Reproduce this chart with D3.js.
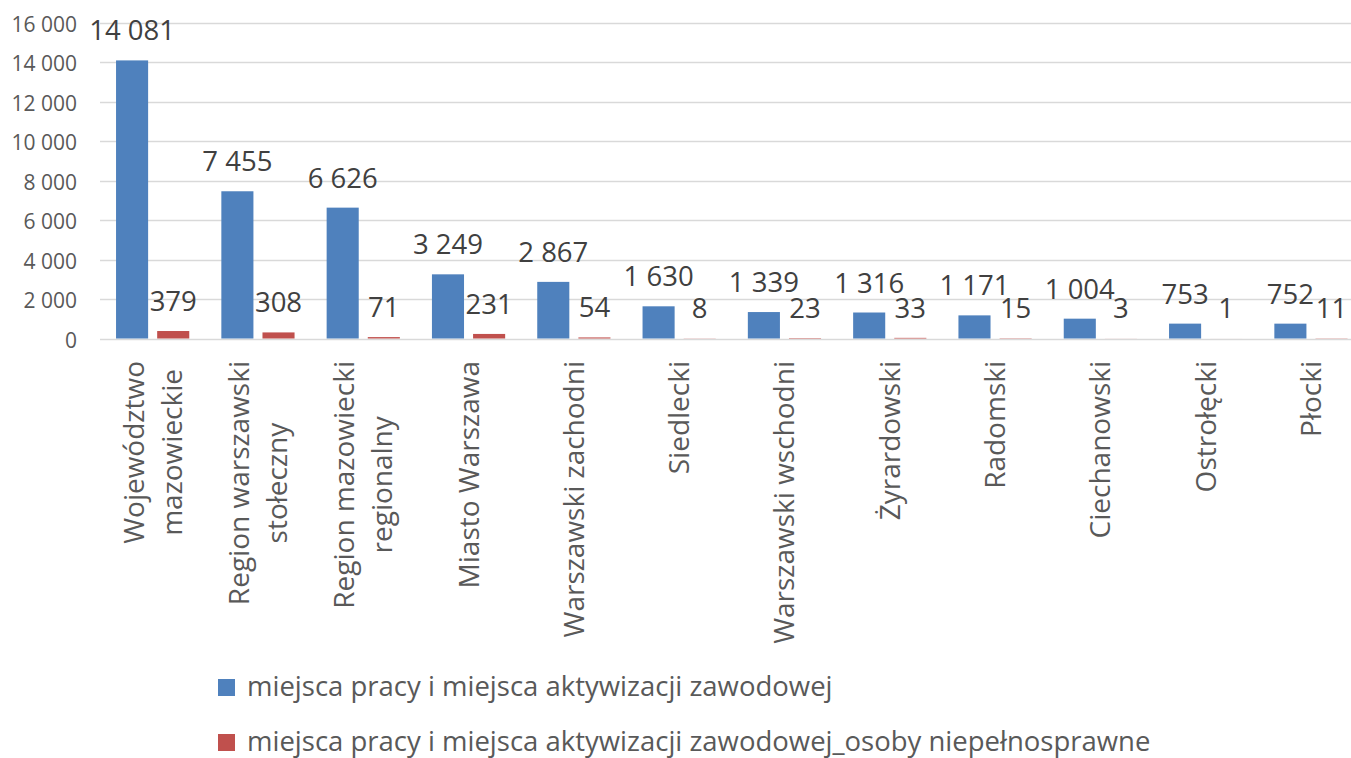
<!DOCTYPE html>
<html>
<head>
<meta charset="utf-8">
<script src="https://cdn.jsdelivr.net/npm/d3@7"></script>
<style>
  body { margin: 0; background: #fff; }
  svg { display: block; font-family: "Open Sans", "Noto Sans", sans-serif; }
</style>
</head>
<body>
<div id="chart"></div>
<script>
// data
const categories = [
    "Województwo\nmazowieckie", "Region warszawski\nstołeczny", "Region mazowiecki\nregionalny",
    "Miasto Warszawa", "Warszawski zachodni", "Siedlecki", "Warszawski wschodni",
    "Żyrardowski", "Radomski", "Ciechanowski", "Ostrołęcki", "Płocki"
];
const seriesNames = [
    "miejsca pracy i miejsca aktywizacji zawodowej",
    "miejsca pracy i miejsca aktywizacji zawodowej_osoby niepełnosprawne"
];
const jobs = [14081, 7455, 6626, 3249, 2867, 1630, 1339, 1316, 1171, 1004, 753, 752];
const jobsDisabled = [379, 308, 71, 231, 54, 8, 23, 33, 15, 3, 1, 11];
const yTicks = [0, 2000, 4000, 6000, 8000, 10000, 12000, 14000, 16000];
const colors = ["#4f81bd", "#c0504d"];

function drawChart() {
    const width = 1351;
    const height = 758;
    const margin = { top: 22.5, left: 100, bottom: 338.5 };
    const step = 105.3;

    const svg = d3.select("#chart")
        .append("svg")
        .attr("width", width)
        .attr("height", height);

    const fmt = d3.formatLocale({ decimal: ",", thousands: " ", grouping: [3], currency: ["", ""] }).format(",");

    const x0 = d3.scaleBand()
        .domain(d3.range(categories.length))
        .range([margin.left, margin.left + step * categories.length]);

    const x1 = d3.scaleBand()
        .domain([0, 1])
        .range([0, x0.bandwidth()])
        .paddingInner(0.22)
        .paddingOuter(0.39);

    const y = d3.scaleLinear()
        .domain([0, 16000])
        .range([margin.bottom, margin.top]);

    // gridlines
    svg.append("g")
        .selectAll("line")
        .data(yTicks)
        .enter()
        .append("line")
        .attr("x1", margin.left)
        .attr("x2", width)
        .attr("y1", d => Math.round(y(d)) + 0.5)
        .attr("y2", d => Math.round(y(d)) + 0.5)
        .attr("stroke", "#d9d9d9")
        .attr("stroke-width", 1.3);

    // y tick labels
    svg.append("g")
        .selectAll("text")
        .data(yTicks)
        .enter()
        .append("text")
        .attr("x", 77)
        .attr("y", d => y(d) + 9)
        .attr("text-anchor", "end")
        .attr("font-size", 21)
        .attr("fill", "#595959")
        .text(d => fmt(d));

    const rows = categories.map((c, i) => ({ i, values: [jobs[i], jobsDisabled[i]] }));

    const groups = svg.append("g")
        .selectAll("g")
        .data(rows)
        .enter()
        .append("g")
        .attr("transform", d => `translate(${x0(d.i)},0)`);

    groups.selectAll("rect")
        .data(d => d.values.map((v, s) => ({ v, s })))
        .enter()
        .append("rect")
        .attr("x", d => x1(d.s))
        .attr("width", x1.bandwidth())
        .attr("y", d => y(d.v))
        .attr("height", d => y(0) - y(d.v))
        .attr("fill", d => colors[d.s]);

    // data labels
    groups.selectAll("text")
        .data(d => d.values.map((v, s) => ({ v, s })))
        .enter()
        .append("text")
        .attr("x", d => x1(d.s) + x1.bandwidth() / 2)
        .attr("y", d => y(d.v) - 20)
        .attr("text-anchor", "middle")
        .attr("font-size", 27.5)
        .attr("fill", "#404040")
        .text(d => fmt(d.v));

    // category labels, rotated
    const labels = svg.append("g")
        .selectAll("g")
        .data(categories)
        .enter()
        .append("g")
        .attr("transform", (d, i) => `translate(${x0(i) + x0.bandwidth() / 2},361) rotate(-90)`);

    labels.each(function(d) {
        const lines = d.split("\n");
        const g = d3.select(this);
        const texts = g.selectAll("text")
            .data(lines)
            .enter()
            .append("text")
            .attr("font-size", 28)
            .attr("fill", "#595959")
            .attr("text-anchor", "middle")
            .attr("y", (l, k) => 10 + (k - (lines.length - 1) / 2) * 38)
            .text(l => l);
        let maxW = 0;
        texts.each(function() { maxW = Math.max(maxW, this.getComputedTextLength()); });
        texts.attr("x", -maxW / 2);
    });

    // legend
    const legend = svg.append("g")
        .selectAll("g")
        .data(seriesNames)
        .enter()
        .append("g")
        .attr("transform", (d, i) => `translate(218,${679 + i * 55})`);

    legend.append("rect")
        .attr("width", 17)
        .attr("height", 17)
        .attr("fill", (d, i) => colors[i]);

    legend.append("text")
        .attr("x", 29)
        .attr("y", 17)
        .attr("font-size", 27.5)
        .attr("fill", "#595959")
        .text(d => d);
}

drawChart();
</script>
</body>
</html>
